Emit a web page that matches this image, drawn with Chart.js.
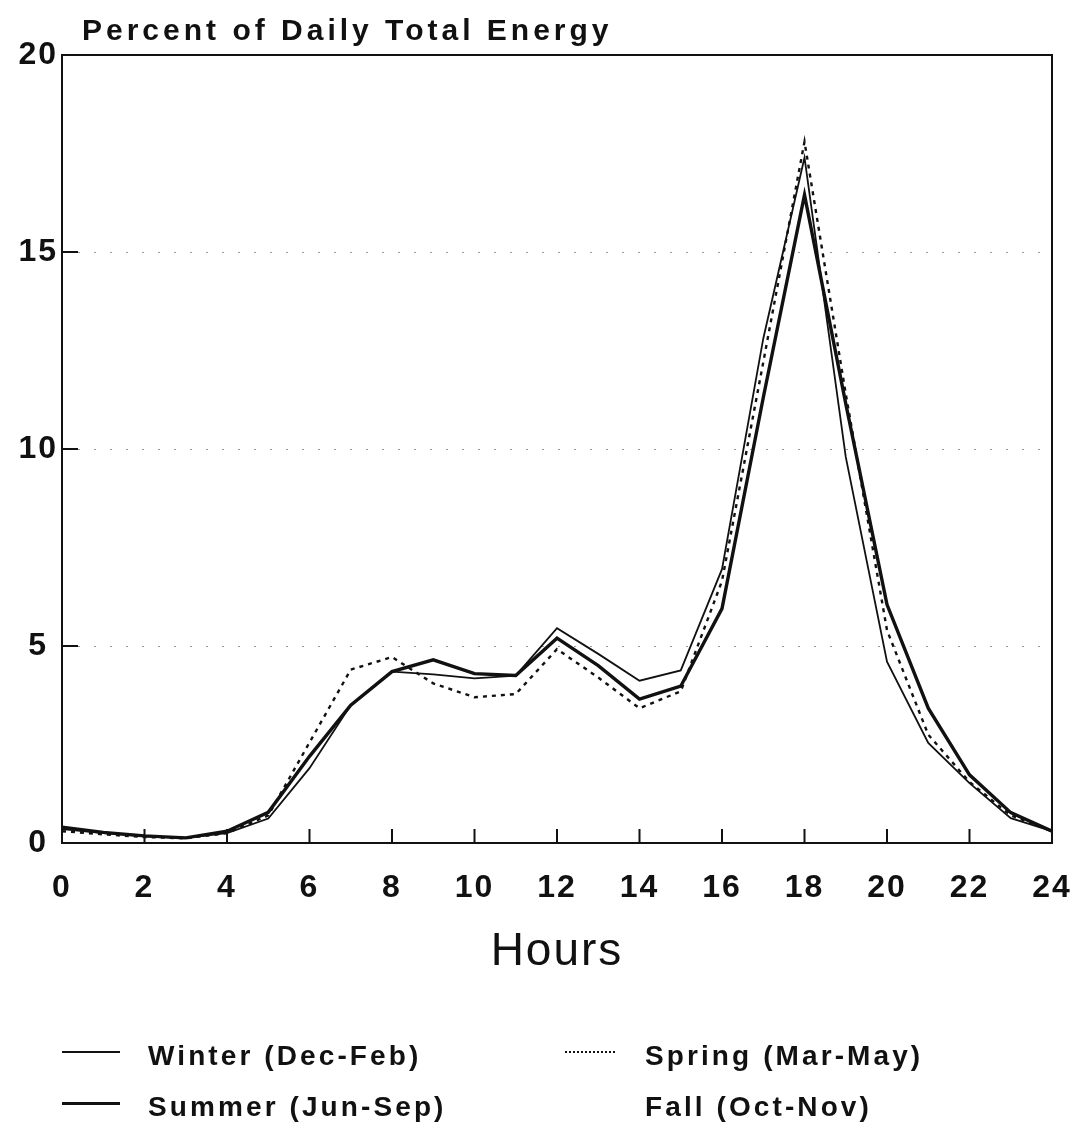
<!DOCTYPE html>
<html>
<head>
<meta charset="utf-8">
<script src="https://cdn.jsdelivr.net/npm/chart.js@4.4.0/dist/chart.umd.min.js"></script>
<style>
  html, body { margin: 0; padding: 0; background: #fff; }
  #wrap { position: relative; width: 1078px; height: 1132px; }
  #box { position: absolute; left: 0; top: 0; width: 1078px; height: 1000px; }
  #legend { position: absolute; left: 0; top: 0; width: 1078px; height: 1132px; pointer-events: none;
            font-family: 'Liberation Sans', Arial, sans-serif; font-weight: bold; font-size: 28px;
            letter-spacing: 3.1px; color: #111; }
  .item { position: absolute; height: 30px; white-space: nowrap; }
  .sample { position: absolute; left: 0; top: 10px; height: 0; }
  .label { position: absolute; top: 0; line-height: 30px; }
</style>
</head>
<body>
<div id="wrap">
  <div id="box"><canvas id="energyChart"></canvas></div>
  <div id="legend"></div>
</div>
<script>
// hour of day
const hours = [0, 1, 2, 3, 4, 5, 6, 7, 8, 9, 10, 11, 12, 13, 14, 15, 16, 17, 18, 19, 20, 21, 22, 23, 24];
const xTicks = [0, 2, 4, 6, 8, 10, 12, 14, 16, 18, 20, 22, 24];
const yTicks = [0, 5, 10, 15, 20];

// percent of daily total energy, per season
const winter = [0.35, 0.25, 0.17, 0.13, 0.25, 0.62, 1.9, 3.5, 4.35, 4.28, 4.18, 4.25, 5.45, 4.8, 4.12, 4.38, 6.95, 12.8, 17.4, 9.8, 4.6, 2.54, 1.52, 0.63, 0.3];
const summer = [0.4, 0.27, 0.18, 0.13, 0.3, 0.78, 2.2, 3.5, 4.35, 4.65, 4.3, 4.25, 5.2, 4.5, 3.65, 3.98, 5.95, 11.3, 16.45, 11.15, 6.05, 3.42, 1.73, 0.77, 0.3];
const spring = [0.3, 0.22, 0.15, 0.12, 0.25, 0.7, 2.55, 4.4, 4.72, 4.05, 3.7, 3.78, 4.92, 4.2, 3.42, 3.85, 6.65, 12.2, 17.8, 11.4, 5.4, 2.75, 1.55, 0.7, 0.3];
const fall = [];   // no visible curve in the original

const seasonLabels = ['Winter (Dec-Feb)', 'Summer (Jun-Sep)', 'Spring (Mar-May)', 'Fall (Oct-Nov)'];

const FONT = "'Liberation Sans', Arial, sans-serif";

function pts(vals) {
    return vals.map((v, i) => ({ x: hours[i], y: v }));
}

// frame, inward tick marks and the top-left title
const framePlugin = {
    id: 'frame',
    beforeUpdate(chart) { chart.ctx.letterSpacing = '2px'; },
    beforeDraw(chart) { chart.ctx.letterSpacing = '2px'; },
    afterDraw(chart) {
        const { ctx, chartArea: a, scales } = chart;
        ctx.save();
        ctx.strokeStyle = '#111';
        ctx.lineWidth = 2;
        ctx.strokeRect(a.left, a.top, a.right - a.left, a.bottom - a.top);
        ctx.beginPath();
        xTicks.forEach(t => {
            const x = scales.x.getPixelForValue(t);
            ctx.moveTo(x, a.bottom);
            ctx.lineTo(x, a.bottom - 14);
        });
        yTicks.slice(1, -1).forEach(t => {
            const y = scales.y.getPixelForValue(t);
            ctx.moveTo(a.left, y);
            ctx.lineTo(a.left + 16, y);
        });
        ctx.stroke();
        ctx.fillStyle = '#111';
        ctx.font = 'bold 30px ' + FONT;
        ctx.letterSpacing = '4px';
        ctx.textBaseline = 'alphabetic';
        ctx.textAlign = 'left';
        ctx.fillText('Percent of Daily Total Energy', 82, 40);
        ctx.restore();
    }
};

const ctx = document.getElementById('energyChart').getContext('2d');
const energyChart = new Chart(ctx, {
    type: 'line',
    data: {
        datasets: [{
            label: seasonLabels[0],
            data: pts(winter),
            borderColor: '#111',
            borderWidth: 1.8,
            pointRadius: 0
        }, {
            label: seasonLabels[1],
            data: pts(summer),
            borderColor: '#111',
            borderWidth: 3.4,
            pointRadius: 0
        }, {
            label: seasonLabels[2],
            data: pts(spring),
            borderColor: '#111',
            borderWidth: 2.4,
            borderDash: [4, 5],
            pointRadius: 0
        }, {
            label: seasonLabels[3],
            data: pts(fall),
            borderColor: 'rgba(0,0,0,0)',
            borderWidth: 0,
            pointRadius: 0
        }]
    },
    options: {
        responsive: true,
        maintainAspectRatio: false,
        animation: false,
        layout: { padding: { top: 55, right: 26, left: 0, bottom: 0 } },
        plugins: {
            legend: { display: false },
            tooltip: { enabled: false }
        },
        scales: {
            x: {
                type: 'linear',
                min: 0,
                max: 24,
                afterFit: s => { s.height = 157; s.paddingLeft = 0; s.paddingRight = 0; },
                afterBuildTicks: s => { s.ticks = xTicks.map(v => ({ value: v })); },
                grid: { display: false, drawTicks: false },
                border: { display: false },
                ticks: {
                    padding: 26,
                    color: '#111',
                    maxRotation: 0,
                    font: { family: FONT, size: 32, weight: 'bold' }
                },
                title: {
                    display: true,
                    text: 'Hours',
                    color: '#111',
                    padding: { top: 0, bottom: 20 },
                    font: { family: FONT, size: 46 }
                }
            },
            y: {
                min: 0,
                max: 20,
                afterFit: s => { s.width = 62; s.paddingTop = 0; s.paddingBottom = 0; },
                afterBuildTicks: s => { s.ticks = yTicks.map(v => ({ value: v })); },
                grid: {
                    drawTicks: false,
                    color: c => (c.tick.value === 0 || c.tick.value === 20) ? 'rgba(0,0,0,0)' : '#9a9a9a',
                    lineWidth: 1
                },
                border: { display: false, dash: [2, 14] },
                ticks: {
                    padding: 4,
                    crossAlign: 'center',
                    color: '#111',
                    font: { family: FONT, size: 32, weight: 'bold' }
                }
            }
        }
    },
    plugins: [framePlugin]
});

// two-column legend under the chart, built from the datasets
const legendSpots = [
    { left: 62, top: 1041, sw: 58, tx: 86 },
    { left: 62, top: 1092, sw: 58, tx: 86 },
    { left: 565, top: 1041, sw: 50, tx: 80 },
    { left: 565, top: 1092, sw: 50, tx: 80 }
];
const legendEl = document.getElementById('legend');
energyChart.data.datasets.forEach((ds, i) => {
    const spot = legendSpots[i];
    const item = document.createElement('div');
    item.className = 'item';
    item.style.left = spot.left + 'px';
    item.style.top = spot.top + 'px';
    const sample = document.createElement('div');
    sample.className = 'sample';
    sample.style.width = spot.sw + 'px';
    const w = Math.max(1, Math.round(ds.borderWidth));
    sample.style.borderTop = ds.borderWidth ? (w + 'px ' + (ds.borderDash ? 'dotted' : 'solid') + ' ' + ds.borderColor) : 'none';
    const txt = document.createElement('div');
    txt.className = 'label';
    txt.style.left = spot.tx + 'px';
    txt.textContent = ds.label;
    item.appendChild(sample);
    item.appendChild(txt);
    legendEl.appendChild(item);
});
</script>
</body>
</html>
